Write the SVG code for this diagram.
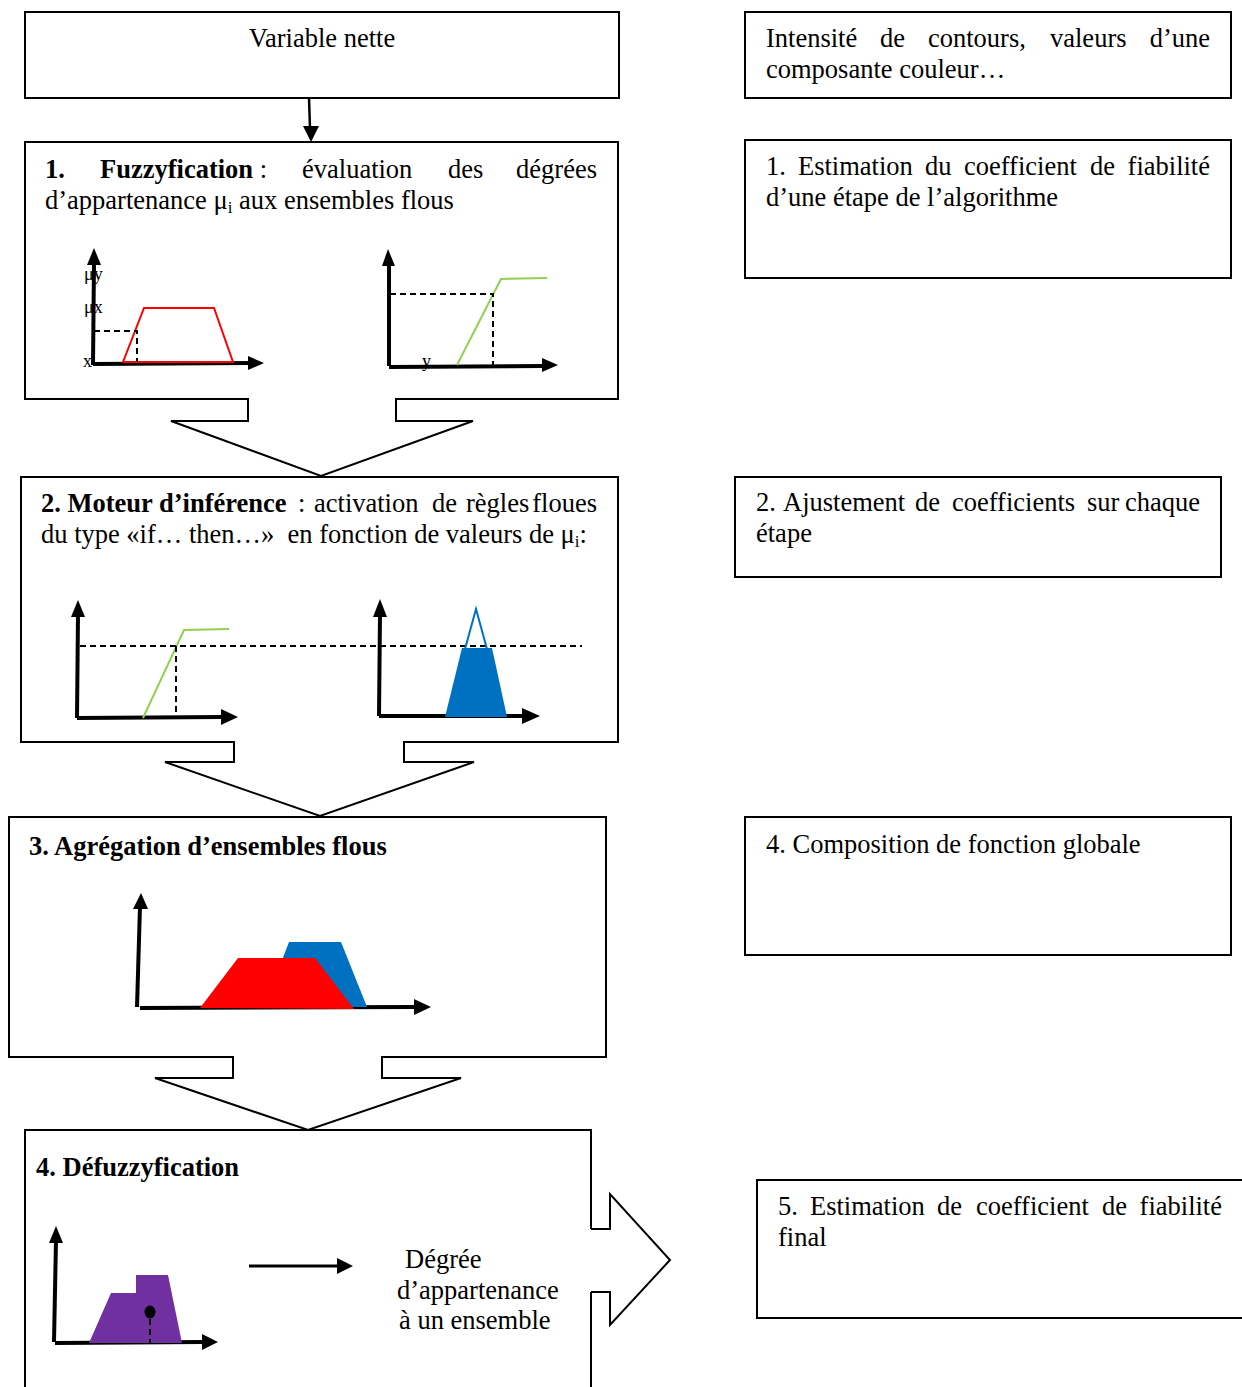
<svg xmlns="http://www.w3.org/2000/svg" width="1242" height="1387" viewBox="0 0 1242 1387">
<style>
text{font-family:"Liberation Serif","Times New Roman",serif;font-size:26.5px;fill:#000}
.b{font-weight:bold}
.sm{font-size:18px}
.box{fill:none;stroke:#000;stroke-width:2}
.ax{stroke:#000;stroke-width:4;fill:none}
.ah{fill:#000;stroke:none}
.dash{stroke:#000;stroke-width:2;stroke-dasharray:6 4;fill:none}
.blk{fill:#fff;stroke:#000;stroke-width:2;stroke-linejoin:miter}
</style>
<rect width="1242" height="1387" fill="#fff"/>

<g id="node-variable">
<rect class="box" x="25" y="12" width="594" height="86"/>
<text x="322" y="47" text-anchor="middle">Variable nette</text>
</g>

<g id="node-fuzzy">
<rect class="box" x="25" y="142" width="593" height="257"/>
<text class="b" x="45" y="178">1.</text>
<text x="100" y="178"><tspan class="b">Fuzzyfication</tspan> :</text>
<text x="302" y="178">évaluation</text>
<text x="448" y="178">des</text>
<text x="597" y="178" text-anchor="end">dégrées</text>
<text x="45" y="209">d’appartenance μ<tspan font-size="17" dy="4">i</tspan><tspan dy="-4"> aux ensembles flous</tspan></text>
<!-- graph 1a -->
<line class="ax" x1="93" y1="365" x2="94" y2="262"/>
<polygon class="ah" points="87,265 94,248 101,265"/>
<line class="ax" x1="93" y1="364" x2="250" y2="363"/>
<polygon class="ah" points="248,356 264,363 248,370"/>
<polygon points="123,362 144,308 214,308 233,362" fill="none" stroke="#FF0000" stroke-width="2"/>
<polyline class="dash" points="94,331 137,331 137,362"/>
<text class="sm" x="84" y="280">μy</text>
<text class="sm" x="84" y="313">μx</text>
<text class="sm" x="83" y="367">x</text>
<!-- graph 1b -->
<line class="ax" x1="389" y1="366" x2="389" y2="263"/>
<polygon class="ah" points="382,266 388,249 395,266"/>
<line class="ax" x1="389" y1="367" x2="543" y2="366"/>
<polygon class="ah" points="542,358 558,365 542,372"/>
<polyline points="457,365 501,279 547,278" fill="none" stroke="#92D050" stroke-width="2"/>
<polyline class="dash" points="390,294 493,294 493,366"/>
<text class="sm" x="422" y="367">y</text>
</g>

<g id="node-inference">
<rect class="box" x="21" y="477" width="597" height="265"/>
<text class="b" x="41" y="512">2. Moteur d’inférence</text>
<text x="298" y="512">:</text>
<text x="314" y="512">activation</text>
<text x="432" y="512">de</text>
<text x="466" y="512">règles</text>
<text x="597" y="512" text-anchor="end">floues</text>
<text x="41" y="543">du type «if… then…»&#160; en fonction de valeurs de μ<tspan font-size="17" dy="4">i</tspan><tspan dy="-4">:</tspan></text>
<!-- graph 2a -->
<line class="ax" x1="77" y1="718" x2="78" y2="614"/>
<polygon class="ah" points="71,617 78,600 85,617"/>
<line class="ax" x1="77" y1="718" x2="222" y2="717"/>
<polygon class="ah" points="221,709 238,717 221,725"/>
<polyline points="143,718 184,630 229,629" fill="none" stroke="#92D050" stroke-width="2"/>
<line class="dash" x1="80" y1="646" x2="582" y2="646"/>
<line class="dash" x1="176" y1="646" x2="176" y2="718"/>
<!-- graph 2b -->
<line class="ax" x1="379" y1="716" x2="380" y2="614"/>
<polygon class="ah" points="373,617 380,599 387,617"/>
<line class="ax" x1="379" y1="716" x2="523" y2="716"/>
<polygon class="ah" points="522,708 540,716 522,724"/>
<polygon points="445,717 462,648 492,648 507,717" fill="#0070C0"/>
<polyline points="465,649 476,609 487,649" fill="none" stroke="#0070C0" stroke-width="2"/>
</g>

<g id="node-aggregation">
<rect class="box" x="9" y="817" width="597" height="240"/>
<text class="b" x="29" y="855">3. Agrégation d’ensembles flous</text>
<line class="ax" x1="137" y1="1007" x2="140" y2="906"/>
<polygon class="ah" points="133,909 141,893 148,909"/>
<line class="ax" x1="140" y1="1008" x2="416" y2="1007"/>
<polygon class="ah" points="414,999 431,1007 414,1015"/>
<polygon points="264,1007 289,942 341,942 367,1007" fill="#0070C0"/>
<polygon points="200,1008 238,958 315,958 354,1009" fill="#FF0000"/>
</g>

<g id="node-defuzzy">
<path class="box" d="M25,1390 V1130 H591 V1229 M591,1292 V1390"/>
<text class="b" x="36" y="1176">4. Défuzzyfication</text>
<line class="ax" x1="54" y1="1342" x2="56" y2="1240"/>
<polygon class="ah" points="49,1243 56,1226 63,1243"/>
<line class="ax" x1="55" y1="1343" x2="203" y2="1342"/>
<polygon class="ah" points="202,1334 218,1342 202,1350"/>
<polygon points="89,1343 111,1293 136,1293 136,1275 168,1275 182,1343" fill="#7030A0"/>
<line class="dash" x1="150" y1="1319" x2="150" y2="1343"/>
<ellipse cx="150" cy="1312" rx="5.5" ry="6.5" fill="#000"/>
<line x1="249" y1="1266" x2="339" y2="1266" stroke="#000" stroke-width="3"/>
<polygon class="ah" points="337,1258 353,1266 337,1274"/>
<text x="405" y="1268">Dégrée</text>
<text x="397" y="1299">d’appartenance</text>
<text x="399" y="1329">à un ensemble</text>
</g>

<g id="node-r1">
<rect class="box" x="745" y="12" width="486" height="86"/>
<text x="766" y="47">Intensité</text>
<text x="880" y="47">de</text>
<text x="928" y="47">contours,</text>
<text x="1050" y="47">valeurs</text>
<text x="1210" y="47" text-anchor="end">d’une</text>
<text x="766" y="78">composante couleur…</text>
</g>

<g id="node-r2">
<rect class="box" x="745" y="140" width="486" height="138"/>
<text x="766" y="175">1.</text>
<text x="798" y="175">Estimation</text>
<text x="925" y="175">du</text>
<text x="964" y="175">coefficient</text>
<text x="1090" y="175">de</text>
<text x="1210" y="175" text-anchor="end">fiabilité</text>
<text x="766" y="206">d’une étape de l’algorithme</text>
</g>

<g id="node-r3">
<rect class="box" x="735" y="477" width="486" height="100"/>
<text x="756" y="511">2.</text>
<text x="783" y="511">Ajustement</text>
<text x="915" y="511">de</text>
<text x="952" y="511">coefficients</text>
<text x="1087" y="511">sur</text>
<text x="1200" y="511" text-anchor="end">chaque</text>
<text x="756" y="542">étape</text>
</g>

<g id="node-r4">
<rect class="box" x="745" y="817" width="486" height="138"/>
<text x="766" y="853">4. Composition de fonction globale</text>
</g>

<g id="node-r5">
<rect class="box" x="757" y="1180" width="495" height="138"/>
<text x="778" y="1215">5.</text>
<text x="810" y="1215">Estimation</text>
<text x="937" y="1215">de</text>
<text x="976" y="1215">coefficient</text>
<text x="1102" y="1215">de</text>
<text x="1222" y="1215" text-anchor="end">fiabilité</text>
<text x="778" y="1246">final</text>
</g>

<g id="connectors">
<line x1="309" y1="98" x2="310" y2="128" stroke="#000" stroke-width="2.5"/>
<polygon class="ah" points="303,126 311,142 319,126"/>
<rect x="249" y="396" width="146" height="5" fill="#fff"/>
<path class="blk" d="M248,399 V421 H171 L321,476 L473,421 H396 V399"/>
<rect x="235" y="739" width="168" height="5" fill="#fff"/>
<path class="blk" d="M234,742 V762 H165 L320,816 L474,762 H404 V742"/>
<rect x="234" y="1054" width="147" height="5" fill="#fff"/>
<path class="blk" d="M233,1057 V1078 H155 L308,1130 L461,1078 H382 V1057"/>
<path class="blk" d="M591,1229 H610 V1194 L670,1260 L610,1325 V1292 H591"/>
</g>
</svg>
